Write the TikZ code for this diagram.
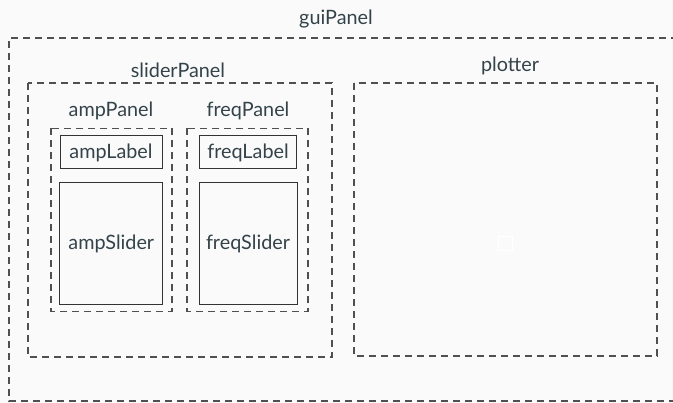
\documentclass[tikz,border=0pt]{standalone}
\usepackage{fontspec}
\setmainfont{Lato}
\definecolor{bg}{HTML}{FAFAFA}
\definecolor{txt}{HTML}{34434A}
\definecolor{dline}{HTML}{505050}
\definecolor{sline}{HTML}{333333}
\tikzset{
  dbox/.style={draw=dline, line width=1.1pt, dash pattern=on 7pt off 5pt},
  sbox/.style={draw=sline, line width=1pt},
  ttl/.style={text=txt, font=\fontsize{19.8}{23}\selectfont, inner sep=0pt},
}
\begin{document}
\begin{tikzpicture}[x=1pt,y=-1pt]
\fill[bg] (0,0) rectangle (673,403);
\useasboundingbox (0,0) rectangle (673,403);
\begin{scope}
\clip (0,0) rectangle (673,403);
\draw[dbox] (690,38) -- (9,38) -- (9,401) -- (690,401);
\end{scope}
\node[ttl] (guiT) at (336,19) {guiPanel};
% sliderPanel
\draw[dbox] (28,83) rectangle (332,357);
\node[ttl] (sliderT) at (178,70) {sliderPanel};
% plotter
\draw[dbox] (354,83) rectangle (657,356);
\node[ttl] (plotT) at (510,66) {plotter};
\draw[white, line width=0.8pt] (498,236) rectangle (512.5,250.5);
% ampPanel / freqPanel
\draw[dbox] (51,128.5) rectangle (172,311.5);
\node[ttl] (ampT) at (111,111) {ampPanel};
\draw[dbox] (187,128.5) rectangle (308,311.5);
\node[ttl] (freqT) at (248,111) {freqPanel};
% labels
\node[sbox, ttl, minimum width=102pt, minimum height=33pt] (ampLabel) at (111,152.5) {ampLabel};
\node[sbox, ttl, minimum width=97pt, minimum height=33pt] (freqLabel) at (248,152.5) {freqLabel};
\node[sbox, ttl, minimum width=103pt, minimum height=122pt] (ampSlider) at (111.3,243.5) {ampSlider};
\node[sbox, ttl, minimum width=98pt, minimum height=122pt] (freqSlider) at (248,243.5) {freqSlider};
\end{tikzpicture}
\end{document}
